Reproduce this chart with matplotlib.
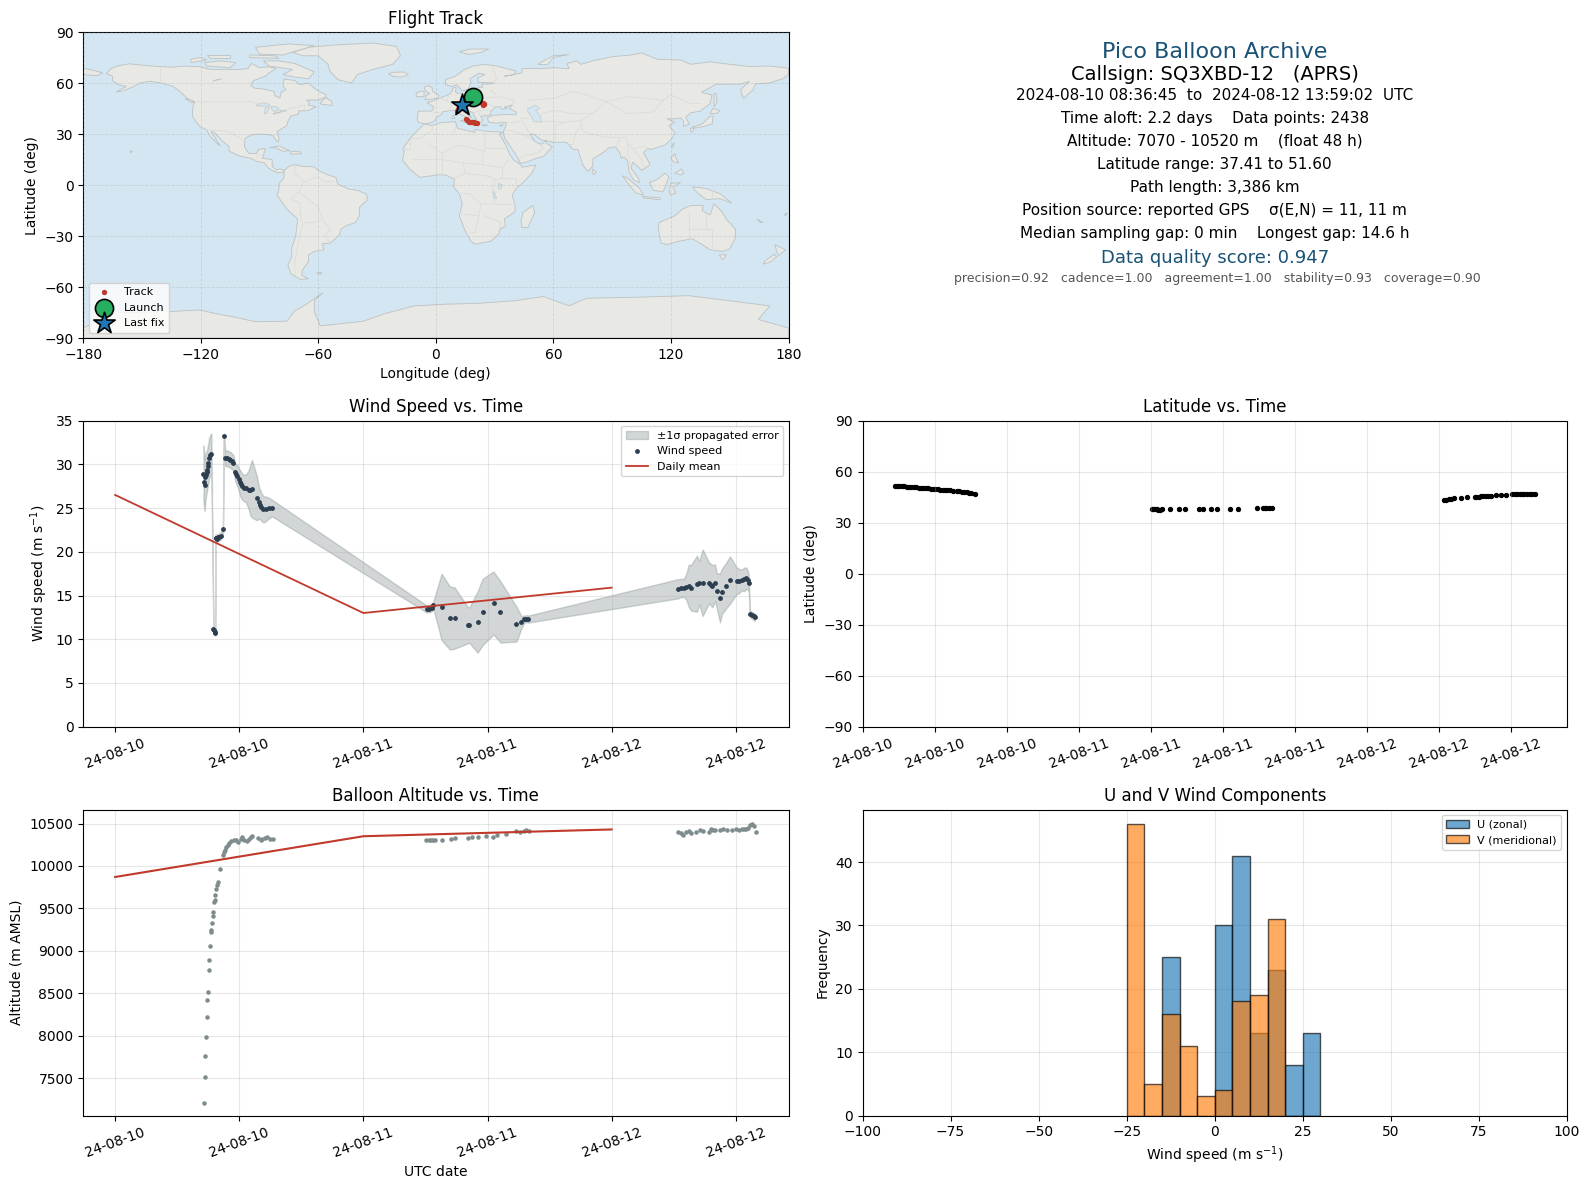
from datetime import datetime

import matplotlib
matplotlib.use("Agg")
import matplotlib.dates as mdates
import matplotlib.pyplot as plt
import numpy as np

# hours since 2024-08-10 00:00 UTC
wind_hours = [8.54, 8.63, 8.66, 8.72, 8.78, 8.84, 8.90, 8.96, 9.02, 9.08, 9.20, 9.30,
              9.50, 9.54, 9.61, 9.67,
              9.71, 9.74, 9.84, 9.93, 10.06, 10.19, 10.42, 10.51,
              10.64, 10.8, 10.97, 11.13, 11.29, 11.42,
              11.61, 11.71, 11.81, 11.94, 12.03, 12.13, 12.26, 12.42, 12.65, 12.9, 13.07, 13.23,
              13.71, 13.87, 14.0, 14.13, 14.33, 14.58, 14.84, 15.17,
              30.12, 30.37, 30.6, 30.76, 31.56, 32.37, 32.82, 34.07, 34.23, 35.04, 35.52, 36.58,
              37.25, 38.8, 39.28, 39.57, 39.76, 39.96,
              54.42, 54.68, 54.97, 55.22, 55.45, 55.67, 56.25, 56.47, 56.8, 57.43, 57.59, 57.75,
              58.0, 58.16, 58.48, 58.64, 59.03, 59.45, 60.09, 60.31, 60.57, 60.83, 61.02, 61.15,
              61.25, 61.37, 61.53, 61.72, 61.85]
wind_speed = [28.85, 28.0, 27.6, 28.5, 28.8, 29.1, 29.4, 29.85, 30.2, 30.7, 31.07, 31.2,
              11.15, 11.03, 10.88, 10.76,
              21.6, 21.53, 21.45, 21.64, 21.72, 21.76, 22.56, 33.2,
              30.7, 30.7, 30.6, 30.5, 30.34, 30.2,
              29.08, 28.9, 28.7, 28.3, 28.0, 27.75, 27.5, 27.3, 27.25, 27.1, 27.06, 27.2,
              26.1, 25.7, 25.4, 25.15, 24.85, 24.9, 25.0, 25.0,
              13.46, 13.5, 13.58, 13.92, 13.69, 12.42, 12.42, 11.62, 11.62, 11.96, 13.12, 14.15,
              13.12, 11.73, 11.96, 12.31, 12.35, 12.31,
              15.77, 15.85, 15.88, 16.0, 16.12, 15.88, 16.35, 16.46, 16.46, 16.46, 16.23, 16.08,
              16.46, 15.54, 14.73, 15.42, 16.08, 16.77, 16.69, 16.65, 16.77, 16.85, 17.0, 16.77,
              16.46, 12.92, 12.77, 12.62, 12.5]
wind_sigma = [3.3, 3.0, 2.9, 2.7, 2.5, 2.4, 2.3, 2.3, 2.3, 2.3, 2.3, 2.3,
              0.3, 0.3, 0.3, 0.3,
              0.4, 0.4, 0.4, 0.4, 0.4, 0.4, 0.4, 0.3,
              0.9, 0.9, 0.9, 0.9, 0.9, 0.9,
              1.0, 1.1, 1.2, 1.3, 1.4, 1.5, 1.5, 1.5, 1.6, 2.2, 2.9, 3.3,
              2.5, 1.9, 1.7, 1.6, 1.5, 1.4, 1.2, 0.95,
              0.4, 0.4, 0.4, 0.4, 3.8, 3.6, 3.5, 2.1, 2.0, 3.5, 3.8, 3.6,
              3.5, 2.0, 0.7, 0.4, 0.4, 0.4,
              1.1, 1.05, 1.0, 1.5, 2.4, 2.6, 3.2, 2.5, 3.8, 2.3, 2.4, 2.4,
              2.1, 2.0, 2.8, 2.6, 2.6, 2.7, 1.5, 1.4, 1.2, 1.35, 1.2, 1.1,
              1.0, 0.4, 0.4, 0.4, 0.4]

alt_hours = [8.58, 8.71, 8.71, 8.81, 8.90, 8.90, 9.0, 9.10, 9.10, 9.19, 9.29, 9.30, 9.39, 9.48,
             9.49, 9.58, 9.68, 9.68, 9.77, 9.87, 9.97, 10.16, 10.45, 10.55, 10.65, 10.74, 10.87,
             11.0, 11.19, 11.48, 11.71, 11.9, 12.13, 12.29, 12.45, 12.71, 12.94, 13.1, 13.26,
             13.77, 14.06, 14.23, 14.48, 14.68, 14.94, 15.26,
             30.1, 30.3, 30.5, 30.7, 30.9, 31.6, 32.5, 32.9, 34.1, 34.5, 35.1, 35.9, 36.5, 36.9,
             37.8, 38.8, 39.1, 39.5, 39.7, 40.0,
             54.4, 54.7, 54.9, 55.2, 55.5, 55.7, 56.2, 56.5, 56.8, 57.4, 57.6, 57.8, 58.0, 58.5,
             58.8, 59.2, 59.6, 60.0, 60.3, 60.6, 60.8, 61.0, 61.2, 61.4, 61.6, 61.8, 61.95]
alt_m = [7210, 7519, 7766, 7989, 8224, 8424, 8518, 8777, 8895, 9059, 9220, 9240, 9330, 9412,
         9459, 9577, 9600, 9659, 9726, 9780, 9816, 9965, 10129, 10161, 10188, 10220, 10247,
         10270, 10290, 10302, 10306, 10278, 10314, 10337, 10306, 10298, 10314, 10337, 10353,
         10329, 10306, 10318, 10325, 10337, 10322, 10314,
         10310, 10305, 10310, 10305, 10305, 10310, 10315, 10330, 10330, 10340, 10345, 10350,
         10345, 10365, 10380, 10410, 10400, 10415, 10420, 10415,
         10400, 10385, 10370, 10395, 10415, 10385, 10395, 10420, 10410, 10400, 10430, 10420,
         10425, 10425, 10430, 10425, 10425, 10430, 10420, 10430, 10440, 10440, 10450, 10480,
         10500, 10470, 10395]

daily_hours = [0, 24, 48]
daily_wind = [26.5, 13.0, 15.9]
daily_alt = [9870, 10350, 10430]

lat_hours = [8.6, 8.8, 9.0, 9.2, 9.4, 9.6, 9.8, 10.0, 10.2, 10.4, 10.6, 10.8, 11.0, 11.2, 11.4,
             11.6, 11.8, 12.0, 12.2, 12.4, 12.6, 12.8, 13.0, 13.2, 13.44,
             13.8, 14.0, 14.2, 14.4, 14.6, 14.8, 15.0, 15.3,
             30.03, 30.15, 30.3, 30.45, 30.58, 30.72, 30.86, 31.6, 32.3, 32.8, 34.0, 34.3, 35.0,
             35.5, 36.56, 37.2, 38.8, 39.3, 39.45, 39.6, 39.8, 40.07,
             54.41, 54.6, 54.83, 55.0, 55.24, 55.8, 56.35, 56.96, 57.1, 57.3, 57.46, 57.65, 57.87,
             58.08, 58.29, 58.7, 59.12, 59.53, 60.09, 60.3, 60.5, 60.7, 60.92, 61.1, 61.33, 61.55,
             61.75, 62.0]
lat_deg = [51.6, 51.5, 51.4, 51.35, 51.3, 51.2, 51.1, 51.0, 50.9, 50.75, 50.6, 50.5, 50.4, 50.25,
           50.1, 50.0, 49.85, 49.7, 49.6, 49.45, 49.3, 49.2, 49.1, 48.95, 48.8,
           48.6, 48.4, 48.2, 48.0, 47.8, 47.6, 47.4, 47.0,
           37.8, 37.8, 37.75, 37.75, 37.7, 37.7, 37.75, 37.75, 37.8, 37.8, 37.75, 37.8, 37.8,
           37.8, 37.85, 37.8, 38.4, 38.35, 38.4, 38.4, 38.4, 38.35,
           43.5, 43.6, 43.8, 43.95, 44.2, 44.5, 44.8, 44.8, 45.2, 45.3, 45.4, 45.4, 45.5,
           45.7, 45.8, 46.0, 46.2, 46.5, 46.7, 46.75, 46.8, 46.85, 46.9, 46.95, 47.0, 47.0,
           47.0, 47.0]

track_lon = [19, 19.8, 20.5, 21.2, 22, 22.8, 23.5, 24, 24.5, 24.6, 24.3,
             21, 20.2, 19.5, 19, 18.3, 17.6, 17, 16.3, 15.8, 15.3,
             11, 11.2, 11.5, 11.8, 12.2, 12.6, 13, 13.4]
track_lat = [51.6, 51.0, 50.5, 50.0, 49.5, 49, 48.5, 48.2, 47.8, 47.4, 47,
             36.7, 36.7, 36.8, 36.9, 37.0, 37.0, 37.2, 37.6, 38.4, 38.8,
             43.5, 44.2, 44.8, 45.4, 46, 46.5, 46.9, 47.1]

bin_edges = [-25, -20, -15, -10, -5, 0, 5, 10, 15, 20, 25, 30]
u_counts = [0, 0, 25, 0, 0, 30, 41, 13, 23, 8, 13]
v_counts = [46, 5, 16, 11, 3, 4, 18, 19, 31, 0, 0]

info_lines = [
    "2024-08-10 08:36:45  to  2024-08-12 13:59:02  UTC",
    "Time aloft: 2.2 days    Data points: 2438",
    "Altitude: 7070 - 10520 m    (float 48 h)",
    "Latitude range: 37.41 to 51.60",
    "Path length: 3,386 km",
    "Position source: reported GPS    σ(E,N) = 11, 11 m",
    "Median sampling gap: 0 min    Longest gap: 14.6 h",
]

# simplified land outlines, (lon, lat)
north_america = [(-168, 65.5), (-166, 68.3), (-162, 70.2), (-156.5, 71.3), (-150, 70.5), (-141, 69.7),
                 (-135, 69.3), (-128, 70), (-120, 69.5), (-115, 68), (-108, 68), (-100, 68), (-96, 68.5),
                 (-94, 71.5), (-90, 69), (-85, 69.5), (-81.5, 68.5), (-85, 66), (-87, 64), (-93, 61.5),
                 (-94.5, 58.7), (-92.5, 57), (-88, 56.5), (-82.5, 55), (-82, 52.5), (-79.5, 51.3),
                 (-79, 54.5), (-76.5, 56), (-78, 58.5), (-77.5, 62.3), (-72, 61.5), (-69.5, 59), (-65, 60),
                 (-61, 56), (-56, 53), (-56, 51.8), (-60, 50), (-66, 50), (-64.5, 48.8), (-65, 47), (-61, 46),
                 (-65.5, 43.7), (-70, 43.7), (-70, 41.7), (-74, 40.6), (-75.5, 37.5), (-76, 35), (-81, 31.5),
                 (-80, 26.8), (-80.5, 25.2), (-82, 27), (-83, 29), (-85.5, 29.7), (-89.5, 30), (-94, 29.5),
                 (-97.3, 27.5), (-97.7, 22.5), (-95.5, 18.7), (-91.5, 18.5), (-90.5, 21), (-87, 21.5),
                 (-88, 17.5), (-88.5, 15.8), (-83.5, 15), (-83.5, 11), (-81.5, 9), (-79.5, 9.5), (-77.3, 8.7),
                 (-78.2, 7.5), (-80.5, 7.3), (-83, 8.3), (-85.5, 10), (-87.5, 13), (-91.5, 14), (-95, 16),
                 (-100, 17), (-105.5, 20), (-105.5, 22.5), (-109, 26), (-113, 31), (-114.7, 31.5), (-112, 26.5),
                 (-110, 23), (-112, 25), (-115, 28.5), (-117, 32.5), (-120.5, 34.5), (-122.5, 37.5),
                 (-124.3, 40.5), (-124, 46), (-123, 49), (-127, 51), (-130, 54.5), (-134, 58), (-140, 60),
                 (-146, 61), (-151, 60), (-154, 58), (-160, 55.3), (-163, 54.8), (-158, 58), (-162, 59),
                 (-165, 61.5), (-165, 64)]
south_america = [(-77.3, 8.7), (-75, 11), (-72, 12), (-68, 11), (-62, 10.7), (-60, 8.5), (-55, 6), (-51, 4.5),
                 (-50, 0.5), (-44, -2.5), (-40, -3), (-35.2, -5.5), (-35, -9), (-39, -13), (-39, -18), (-41, -22),
                 (-46, -24), (-48.5, -26), (-49, -29), (-53.5, -34), (-58, -34.5), (-57, -38), (-62, -39),
                 (-65, -41), (-65, -45), (-68, -50), (-68.5, -53), (-65, -55), (-69, -55.5), (-74, -52),
                 (-75.5, -47), (-73.5, -42), (-73.5, -37), (-71.5, -30), (-70.5, -20), (-76, -14), (-81, -6),
                 (-80, -2), (-80, 1), (-77.5, 4), (-77.5, 7)]
africa = [(-6, 35.8), (-2, 35), (3, 36.8), (10, 37.3), (11, 33.5), (15, 32.3), (20, 31), (20, 32.8), (25, 31.7),
          (32, 31.2), (34.3, 31), (32.5, 29.8), (35.5, 24), (37.5, 18.5), (39.5, 15), (43.3, 12), (44, 10.5),
          (51, 11.8), (49, 7), (45, 2), (41, -2), (39, -6), (40.5, -12), (40.5, -15.5), (35, -20), (35.5, -24),
          (32.8, -26), (32, -29), (28, -33), (20, -34.8), (18, -33), (15, -27), (12, -18), (13.5, -11), (12, -5),
          (9, -1), (9.5, 3.5), (5, 6), (1, 6), (-4, 5.2), (-8, 4.5), (-13, 9), (-17, 14.7), (-16, 20), (-17, 21),
          (-13, 27.7), (-9.5, 32)]
eurasia = [(-5.5, 36), (-9, 37), (-9.5, 39), (-9, 43.5), (-2, 43.5), (-1, 46), (-4.5, 48.5), (-1.5, 49.5), (2, 51),
           (4, 52), (7, 53.5), (8.5, 55.5), (8.5, 57), (10.5, 57.5), (10, 55), (11, 54), (14, 54), (19, 54.5),
           (21, 55), (21.5, 57.5), (24, 57.5), (23.5, 59.3), (28, 59.5), (30, 60), (25, 60.2), (21.5, 60.5),
           (21.5, 63), (25, 65), (22, 65.8), (17.5, 62.5), (18, 60), (16.5, 56.5), (14, 55.5), (12.8, 56), (11, 59),
           (8, 58), (5, 59), (5, 62), (10, 64), (14, 67.5), (19, 70), (25, 71), (31, 70), (41, 67), (40, 65),
           (35, 64), (38, 64.5), (44, 66), (44, 68.5), (54, 68.5), (60, 69), (68, 68.5), (67, 71.5), (72, 73),
           (74, 71), (80, 73), (90, 75.5), (100, 76.5), (105, 77.7), (113, 74), (125, 73.5), (130, 71), (140, 72.5),
           (150, 71), (160, 69.7), (170, 70), (178, 69), (180, 68.8), (180, 65), (177, 62.5), (170, 60), (163, 59.5),
           (162, 56), (157, 51), (155.5, 56), (160, 61), (155, 59.3), (143, 59.3), (135.5, 54.5), (141, 53), (140, 48),
           (135, 43.5), (130, 42.5), (127.5, 39.8), (129.5, 36), (126.5, 34.5), (126.5, 37.5), (125, 39.5),
           (121.5, 39), (118, 39), (122, 37), (119, 35), (122, 31), (121, 28), (117, 23.5), (110, 21), (108, 21.5),
           (106, 19), (109, 13), (109, 11.5), (105, 8.7), (103, 11), (100.5, 13.5), (99.5, 10), (103.5, 4), (104, 1.3),
           (101, 3), (98.5, 8), (98, 14), (96, 16.5), (94.5, 16), (94, 19), (91.5, 22.5), (88, 21.7), (86.5, 20),
           (80.3, 15.5), (80, 11), (77.5, 8), (75, 12), (73, 19), (72.5, 21), (70, 21), (68, 23.7), (66.5, 25.3),
           (61, 25), (57, 26), (54, 26.5), (50, 30), (48, 30), (50, 26.5), (51.5, 25), (54, 24), (56.3, 26),
           (56.5, 24.5), (59.5, 22.5), (55, 17), (52, 16), (45, 13), (43, 13), (42, 16), (39, 21), (35, 28),
           (34.8, 29.5), (34.5, 31.5), (35.8, 35), (36, 36.8), (30.5, 36.5), (27, 37), (26.3, 39.5), (29, 41),
           (31, 41.2), (36, 41.5), (41, 41.3), (41, 43), (37.5, 45), (39, 47), (35, 46), (36.5, 45.2), (33.5, 44.5),
           (33, 46), (30.5, 46), (28, 43), (28, 41.5), (26, 40.7), (23, 40.5), (24, 38), (22.5, 36.5), (21, 38),
           (19.5, 41), (19, 42.5), (14, 45), (12.5, 45), (12.5, 44), (16, 41.8), (18.5, 40), (16.5, 40), (17, 38.5),
           (16, 38), (15.5, 40), (12, 42), (10, 44), (7, 43.7), (3.3, 43), (3, 41.5), (0, 39.5), (-0.5, 38), (-2, 36.8)]
australia = [(114, -22), (122, -18), (126, -14), (130, -12), (136.5, -12), (136, -15), (140, -17.5), (142, -11),
             (145.5, -15), (149, -21), (153, -26), (153, -31), (150, -37.5), (146, -39), (140, -38), (136, -35),
             (131, -31.5), (124, -33), (118, -35), (115, -34), (113.5, -26)]
antarctica = [(-180, -90), (-180, -84), (-162, -75), (-150, -75), (-137, -74.4), (-120.6, -73.4), (-113, -75.4),
              (-104, -77.3), (-92, -80.3), (-76, -80), (-72, -74), (-66, -70), (-57.6, -63.2), (-62, -68),
              (-62, -74), (-59, -82.8), (-37, -80), (-25.5, -75.4), (-11, -71), (5, -70), (22, -69.5), (40, -68),
              (55, -65.5), (68, -71), (77, -66.5), (100, -66), (129, -65), (150, -68), (170.5, -71), (164.6, -79),
              (180, -84), (180, -90)]
islands = [
    [(-180, 68.8), (-175, 67.5), (-170, 66), (-173, 64.3), (-180, 65)],
    [(-73, 78), (-65, 81), (-50, 82.5), (-32, 83.5), (-20, 81.5), (-18, 76), (-22, 71), (-32, 68), (-40, 65), (-43, 60),
     (-50, 62), (-54, 67), (-55, 71), (-60, 76), (-68, 76)],
    [(-80, 73), (-72, 71.5), (-67, 69), (-62, 66.5), (-65, 62.5), (-72, 63.5), (-78, 65), (-73, 68), (-85, 70), (-88, 73)],
    [(-117, 70), (-105, 69), (-102, 72), (-110, 73), (-118, 72)],
    [(-90, 77), (-78, 76.5), (-62, 82), (-75, 83), (-92, 81)],
    [(-125, 72), (-117, 73.5), (-120, 75), (-125, 74)],
    [(-95, 75), (-80, 74.5), (-82, 76), (-95, 76.5)],
    [(-115, 75), (-105, 75), (-105, 76.5), (-117, 76.5)],
    [(-59, 47.7), (-53, 46.8), (-53, 49), (-56, 51.5), (-58, 49.5)],
    [(-85, 22), (-80, 23), (-74.5, 20.2), (-78, 19.9), (-82, 22)],
    [(-74, 19.8), (-69, 19.6), (-68.5, 18.5), (-74, 18.2)],
    [(-128, 50.8), (-125, 48.6), (-123.5, 48.5), (-125, 50)],
    [(-156, 20.2), (-155, 19.7), (-155.8, 19)],
    [(-5.5, 50), (1.3, 51.2), (1.5, 52.8), (-1.5, 55), (-2, 57.5), (-4, 58.5), (-6, 57.5), (-5, 55), (-3, 54), (-4.8, 52.8), (-5, 51.7)],
    [(-10, 52), (-6, 52), (-6, 55), (-8, 55.2), (-10, 54)],
    [(-24, 65.5), (-22, 64), (-18, 63.4), (-14, 65), (-16, 66.5), (-22, 66.3)],
    [(12.5, 38), (15.5, 38.2), (15, 36.7)],
    [(8.3, 39), (9.7, 39.2), (9.5, 41), (8.3, 40.8)],
    [(23.6, 35.4), (26.3, 35.2), (24.8, 34.9)],
    [(32.3, 35), (34.5, 35.6), (33.5, 34.7)],
    [(12, 78.5), (17, 76.8), (23, 78), (27, 80), (18, 80)],
    [(52, 71), (57, 70.7), (60, 75), (68, 76.8), (60, 76), (55, 73)],
    [(49.5, -12), (50.5, -16), (47, -25), (44, -25), (43.5, -21), (44.5, -16)],
    [(80, 9.5), (82, 7.5), (80.5, 6), (79.8, 8)],
    [(130.8, 34), (136, 36), (140, 40.5), (141.5, 40.5), (141, 36), (137, 34.5), (132, 33.5)],
    [(140, 42), (141.5, 45.3), (145, 43.5), (143, 42)],
    [(130, 33.5), (131.8, 33.5), (130.8, 31), (130, 32)],
    [(142, 46), (143.5, 49), (143, 54), (142, 53.5), (142, 49)],
    [(120.2, 23), (121.7, 25), (121, 22)],
    [(120, 16), (122, 18.5), (122.5, 16), (124, 13), (121, 13.8)],
    [(122, 7), (125.5, 9.5), (126.5, 7), (125, 6)],
    [(109, 1.5), (113, 3.3), (117, 7), (119, 5), (117.8, 1), (116, -4), (111, -3)],
    [(95.3, 5.5), (98, 4), (104, -2), (106, -6), (102, -4.5), (98, 1)],
    [(105.5, -6.7), (114.5, -7.5), (114.5, -8.7), (106, -7.5)],
    [(119.5, -5.5), (119, -3), (120, 1), (125, 1.5), (121, -1), (122.5, -5)],
    [(131, -1), (138, -2), (145, -5), (151, -10.5), (145, -8), (138, -8.5), (133, -4)],
    [(144.7, -41), (148.3, -41), (147, -43.5), (146, -43.5)],
    [(173, -35), (178.5, -38), (175, -41.5), (174, -39)],
    [(172.7, -40.7), (174, -42), (171, -45), (167, -46.5), (168, -44.5)],
    [(-61, -51.5), (-58, -51.5), (-59, -52.3)],
    [(164, -20), (167, -22), (165.5, -22)],
    [(178, -18), (179.5, -17), (178.5, -16.5)],
]
lakes = [
    [(47, 45), (51, 47), (53, 45), (51, 44), (53.5, 40), (54, 37), (50, 37.3), (49, 40), (47, 43)],
    [(-92, 46.7), (-88, 48.5), (-85, 47.5), (-85, 46.5), (-90, 46.5)],
    [(-87.5, 42), (-86.3, 42), (-85, 45.7), (-87, 45.5)],
    [(-84, 46), (-81, 46), (-80, 44.7), (-82, 43), (-83.5, 44)],
    [(-83, 41.6), (-79, 42.8), (-79.5, 43), (-83, 42.2)],
    [(-79.5, 43.3), (-76.5, 43.5), (-76.5, 44), (-79.5, 43.8)],
    [(-112, 62), (-109, 62.5), (-114, 61)],
    [(32, 1), (34, 0), (33, -2.5), (32, -2)],
    [(29, -4), (30, -4), (31, -8), (30, -8)],
]
borders = [
    [(-123, 49), (-95, 49), (-83, 46), (-79, 43), (-75, 45), (-70, 46), (-67, 47.3), (-67, 45)],
    [(-141, 69.7), (-141, 60)],
    [(-117, 32.5), (-106, 31.7), (-97.3, 26)],
    [(-92, 14.5), (-91, 17.5), (-88, 17.8)],
    [(-72, 12), (-72, 7), (-67, 2), (-70, -4), (-74, -8), (-69, -11), (-69, -17), (-70, -18)],
    [(-67, 2), (-60, 5), (-57, 2), (-52, 2)],
    [(-70, -4), (-60, -13), (-58, -20), (-54, -26), (-57, -30), (-53.5, -33.5)],
    [(-69, -17), (-68, -23), (-70, -33), (-72, -45), (-72, -52)],
    [(-58, -20), (-62, -22), (-67, -22)],
    [(-8, 27.7), (-2, 32), (-1.5, 35)],
    [(-17, 21), (-13, 21), (-13, 27.7), (-8, 27.7)],
    [(-5, 25), (3, 19), (12, 23.5), (25, 20), (25, 31.7)],
    [(25, 22), (37, 22)],
    [(9, 30), (10, 34)],
    [(3, 19), (3, 12), (3, 6)],
    [(-12, 15), (3, 15), (14, 13), (24, 12), (24, 20)],
    [(14, 13), (15, 7), (9, 4)],
    [(24, 12), (34, 10), (37, 15)],
    [(34, 10), (34, 4), (41, 4), (41, -2)],
    [(34, 4), (30, 3), (29, -4), (30, -11), (23, -11), (22, -18), (12, -17)],
    [(12, -5), (17, -5), (23, -11)],
    [(15, 7), (28, 5), (30, 3)],
    [(30, -11), (35, -11), (40, -11)],
    [(22, -18), (20, -28), (17, -28)],
    [(25, -18), (33, -22), (32.5, -26)],
    [(-1.5, 43), (3, 42.5)],
    [(2, 51), (6, 49.5), (8, 48), (7, 44)],
    [(7, 53.5), (6, 51), (6, 49.5)],
    [(14, 54), (15, 51), (12, 50), (13, 47.5), (9.5, 47.5)],
    [(15, 51), (19, 49.5), (23, 48.5), (26, 48), (30, 46)],
    [(23, 54), (24, 51), (23, 48.5)],
    [(13, 47.5), (17, 48), (19, 49.5)],
    [(19, 42.5), (23, 44), (28, 44)],
    [(23, 44), (22, 41), (26, 41.5)],
    [(28, 60), (31, 62), (29, 70)],
    [(24, 51), (32, 52), (40, 50), (39, 47)],
    [(28, 56), (31, 53)],
    [(47, 50), (60, 51), (70, 55), (77, 53), (87, 49)],
    [(87, 49), (98, 52), (116, 50), (120, 53), (130, 48), (135, 48)],
    [(87, 49), (80, 42), (74, 38), (75, 32), (79, 30), (88, 28), (97, 28), (98, 24), (101, 21), (106, 23), (108, 21.5)],
    [(87, 49), (98, 42), (111, 43), (116, 50)],
    [(74, 38), (66, 37), (61, 35), (61, 30), (61, 25)],
    [(66, 37), (53, 37.5), (54, 42), (60, 44), (70, 42), (80, 42)],
    [(74, 35), (71, 30), (70, 24), (68, 23.7)],
    [(44, 37), (46, 34), (48, 30)],
    [(36, 36.8), (42, 37), (44, 39.5), (48, 39)],
    [(36, 32), (39, 32), (46, 29), (48, 29)],
    [(46, 29), (51, 25), (55, 22), (52, 19), (45, 17), (43, 16)],
    [(92, 22), (94, 28)],
    [(98, 24), (98, 18), (99, 12)],
    [(101, 21), (105, 15), (106, 11)],
    [(141, -2.5), (141, -9)],
    [(129, -15), (129, -31.5)],
    [(138, -17), (138, -26), (141, -26), (141, -38)],
    [(129, -26), (138, -26)],
]

LAND = "#e8e8e4"
OCEAN = "#d4e6f1"
COAST = "#bcc2c2"
BORDER = "#dcdcd8"
RED = "#c0392b"
NAVY = "#2c3e50"
TITLE_BLUE = "#1a5276"

W, H = 1589, 1189
t0 = mdates.date2num(datetime(2024, 8, 10))


def to_date(hours):
    return t0 + np.asarray(hours, dtype=float) / 24.0


def add_axes(left, top, right, bottom):
    return fig.add_axes([left / W, 1 - bottom / H, (right - left) / W, (bottom - top) / H])


def date_axis(ax, xmin, xmax, byhour):
    ax.xaxis_date()
    ax.xaxis.set_major_locator(mdates.HourLocator(byhour=byhour))
    ax.xaxis.set_major_formatter(mdates.DateFormatter("%y-%m-%d"))
    ax.set_xlim(to_date(xmin), to_date(xmax))
    ax.tick_params(axis="x", labelrotation=20)
    ax.grid(True, alpha=0.3)


fig = plt.figure(figsize=(W / 100, H / 100), dpi=100)

LEFT = (83.1, 788.5)
RIGHT = (862.5, 1567)
ROW1 = (32.0, 338.2)
ROW2 = (420.6, 726.7)
ROW3 = (809.5, 1115.5)

# flight track map
ax_map = add_axes(LEFT[0], ROW1[0], LEFT[1], ROW1[1])
ax_map.set_facecolor(OCEAN)
for poly in [north_america, south_america, africa, eurasia, australia, antarctica] + islands:
    xy = np.array(poly)
    ax_map.fill(xy[:, 0], xy[:, 1], facecolor=LAND, edgecolor=COAST, linewidth=0.6, zorder=1)
for poly in lakes:
    xy = np.array(poly)
    ax_map.fill(xy[:, 0], xy[:, 1], facecolor=OCEAN, edgecolor=COAST, linewidth=0.4, zorder=1.2)
for line in borders:
    xy = np.array(line)
    ax_map.plot(xy[:, 0], xy[:, 1], color=BORDER, linewidth=0.6, zorder=1.1)
ax_map.scatter(track_lon, track_lat, s=8, color=RED, zorder=3, label="Track")
ax_map.scatter(track_lon[0], track_lat[0], s=170, color="#27ae60", edgecolor="k", linewidth=1.2,
               zorder=4, label="Launch")
ax_map.scatter(track_lon[-1], track_lat[-1], s=260, color="#1f77b4", marker="*", edgecolor="k",
               linewidth=1.2, zorder=5, label="Last fix")
ax_map.set_xlim(-180, 180)
ax_map.set_ylim(-90, 90)
ax_map.set_xticks(np.arange(-180, 181, 60))
ax_map.set_yticks(np.arange(-90, 91, 30))
ax_map.grid(True, linestyle="--", linewidth=0.6, color="#8a9aa0", alpha=0.25, zorder=2)
ax_map.set_axisbelow(False)
ax_map.set_xlabel("Longitude (deg)")
ax_map.set_ylabel("Latitude (deg)")
ax_map.set_title("Flight Track", fontsize=12)
ax_map.legend(loc="lower left", fontsize=8)

# summary text
cx = (RIGHT[0] + RIGHT[1]) / 2 / W


def put(y, text, dx=0, **kw):
    fig.text(cx + dx / W, 1 - y / H, text, ha="center", va="center", **kw)


put(52, "Pico Balloon Archive", fontsize=16, color=TITLE_BLUE)
put(74, "Callsign: SQ3XBD-12   (APRS)", fontsize=14)
for i, line in enumerate(info_lines):
    put(95 + i * 23.1, line, fontsize=11)
put(258, "Data quality score: 0.947", fontsize=13, color=TITLE_BLUE)
put(278.5, "precision=0.92   cadence=1.00   agreement=1.00   stability=0.93   coverage=0.90",
    dx=3, fontsize=9, color="#555555")

# wind speed
ax_wind = add_axes(LEFT[0], ROW2[0], LEFT[1], ROW2[1])
speed = np.array(wind_speed)
sigma = np.array(wind_sigma)
ax_wind.fill_between(to_date(wind_hours), speed - sigma, speed + sigma, color="#7f8c8d", alpha=0.35,
                     label="±1σ propagated error")
ax_wind.scatter(to_date(wind_hours), speed, s=6, color=NAVY, zorder=3, label="Wind speed")
ax_wind.plot(to_date(daily_hours), daily_wind, color=RED, linewidth=1.3, zorder=4, label="Daily mean")
date_axis(ax_wind, -3.1, 65.1, [0, 12])
ax_wind.set_ylim(0, 35)
ax_wind.set_ylabel("Wind speed (m s$^{-1}$)")
ax_wind.set_title("Wind Speed vs. Time", fontsize=12)
ax_wind.legend(loc="upper right", fontsize=8)

# latitude
ax_lat = add_axes(RIGHT[0], ROW2[0], RIGHT[1], ROW2[1])
ax_lat.scatter(to_date(lat_hours), lat_deg, s=8, color="k")
date_axis(ax_lat, 5.93, 64.65, [0, 6, 12, 18])
ax_lat.set_ylim(-90, 90)
ax_lat.set_yticks(np.arange(-90, 91, 30))
ax_lat.set_ylabel("Latitude (deg)")
ax_lat.set_title("Latitude vs. Time", fontsize=12)

# altitude
ax_alt = add_axes(LEFT[0], ROW3[0], LEFT[1], ROW3[1])
ax_alt.scatter(to_date(alt_hours), alt_m, s=5, color="#7f8c8d", zorder=3)
ax_alt.plot(to_date(daily_hours), daily_alt, color=RED, linewidth=1.5, zorder=4)
date_axis(ax_alt, -3.1, 65.1, [0, 12])
ax_alt.set_ylim(7060, 10665)
ax_alt.set_xlabel("UTC date")
ax_alt.set_ylabel("Altitude (m AMSL)")
ax_alt.set_title("Balloon Altitude vs. Time", fontsize=12)

# u / v histogram
ax_hist = add_axes(RIGHT[0], ROW3[0], RIGHT[1], ROW3[1])
bin_left = np.array(bin_edges[:-1], dtype=float)
ax_hist.hist(bin_left, bins=bin_edges, weights=u_counts, color="#1f77b4", alpha=0.65, edgecolor="k",
             label="U (zonal)", zorder=2)
ax_hist.hist(bin_left, bins=bin_edges, weights=v_counts, color="#ff7f0e", alpha=0.65, edgecolor="k",
             label="V (meridional)", zorder=3)
ax_hist.set_xlim(-100, 100)
ax_hist.set_ylim(0, 48.3)
ax_hist.grid(True, alpha=0.3)
ax_hist.set_xlabel("Wind speed (m s$^{-1}$)")
ax_hist.set_ylabel("Frequency")
ax_hist.set_title("U and V Wind Components", fontsize=12)
ax_hist.legend(loc="upper right", fontsize=8)

fig.savefig("out.png", dpi=100)
